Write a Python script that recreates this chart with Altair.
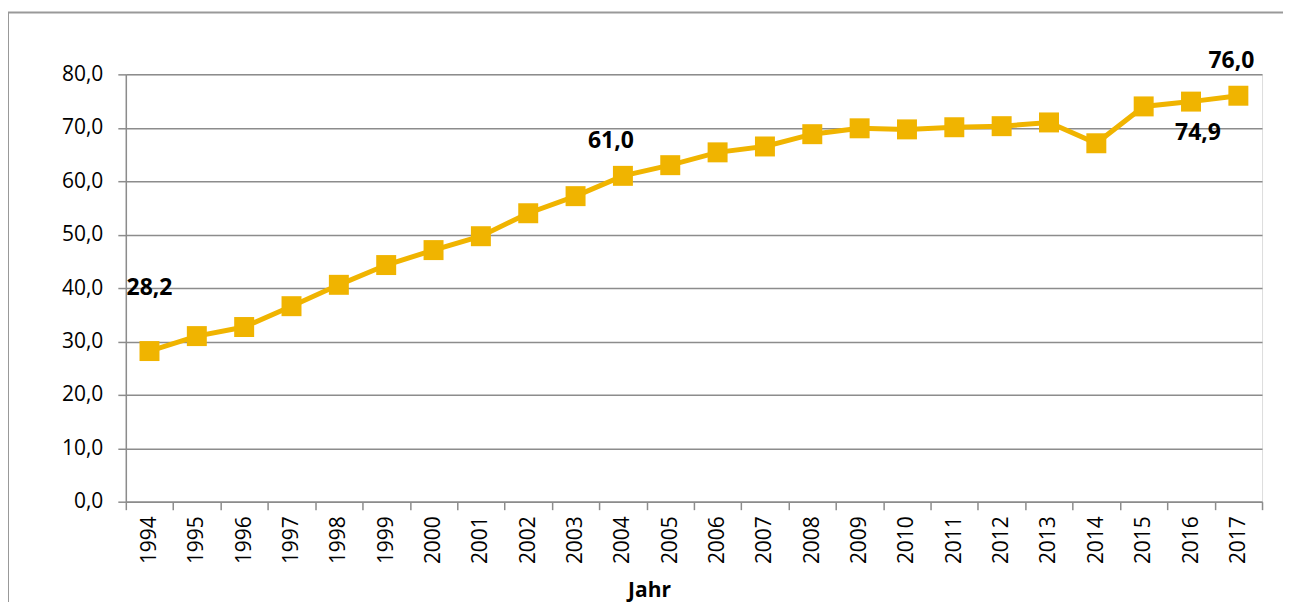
import altair as alt
import pandas as pd

years = [str(y) for y in range(1994, 2018)]
values = [28.2, 31.0, 32.7, 36.6, 40.6, 44.3, 47.1, 49.7, 54.0, 57.2, 61.0, 63.0,
          65.4, 66.5, 68.8, 69.9, 69.7, 70.1, 70.3, 71.0, 67.1, 74.0, 74.9, 76.0]
y_ticks = [0, 10, 20, 30, 40, 50, 60, 70, 80]
labelled_years = ["1994", "2004", "2016", "2017"]

df = pd.DataFrame({"Jahr": years, "Wert": values})

GOLD = "#F0B400"
GRAY = "#8C8C8C"
FONT = "Open Sans"

x_enc = alt.X("Jahr:O", sort=years,
              scale=alt.Scale(type="band", paddingInner=0, paddingOuter=0),
              axis=alt.Axis(title="Jahr", labelAngle=-90, tickBand="extent",
                            labelFontSize=21, labelColor="#000", labelFont=FONT,
                            labelPadding=6, tickSize=8, tickColor=GRAY, tickWidth=1.5,
                            domainColor=GRAY, domainWidth=1.5, grid=False,
                            titleFontSize=21, titleFontWeight="bold", titleFont=FONT,
                            titleColor="#000", titleX=524, titleY=95,
                            titleBaseline="alphabetic", titleAlign="center"))
y_enc = alt.Y("Wert:Q",
              scale=alt.Scale(domain=[0, 80], nice=False),
              axis=alt.Axis(title=None, values=y_ticks,
                            labelExpr="replace(format(datum.value, '.1f'), '.', ',')",
                            labelFontSize=21, labelColor="#000", labelFont=FONT,
                            labelPadding=15, tickSize=8, tickColor=GRAY, tickWidth=1.5,
                            domainColor=GRAY, domainWidth=1.5,
                            grid=True, gridColor=GRAY, gridWidth=1.5))

base = alt.Chart(df)

frame = alt.Chart(pd.DataFrame({"a": [0]})).mark_rect(
    fill=None, stroke="#999999", strokeWidth=2
).encode(x=alt.value(-118), x2=alt.value(1300), y=alt.value(-62), y2=alt.value(640))

line = base.mark_line(color=GOLD, strokeWidth=5).encode(x=x_enc, y=y_enc)
pts = base.mark_point(shape="square", filled=True, size=400, opacity=1,
                      color=GOLD).encode(x="Jahr:O", y="Wert:Q")

def label(year, dx, dy):
    return base.transform_filter(alt.datum.Jahr == year).transform_calculate(
        txt="replace(format(datum.Wert, '.1f'), '.', ',')"
    ).mark_text(fontSize=23, fontWeight="bold", font=FONT, color="#000",
                dx=dx, dy=dy).encode(x="Jahr:O", y="Wert:Q", text="txt:N")

labels = [label("1994", 0, -63), label("2004", -12, -35),
          label("2016", 7, 31), label("2017", -7, -35)]

chart = alt.layer(frame, line, pts, *labels).properties(
    width=1138, height=428,
    autosize=alt.AutoSizeParams(type="none"),
    padding={"left": 118, "top": 66, "right": 21, "bottom": 100},
).configure_view(stroke=None).configure(background="white")

chart.save("out.html", embed_options={"renderer": "svg", "actions": False})
